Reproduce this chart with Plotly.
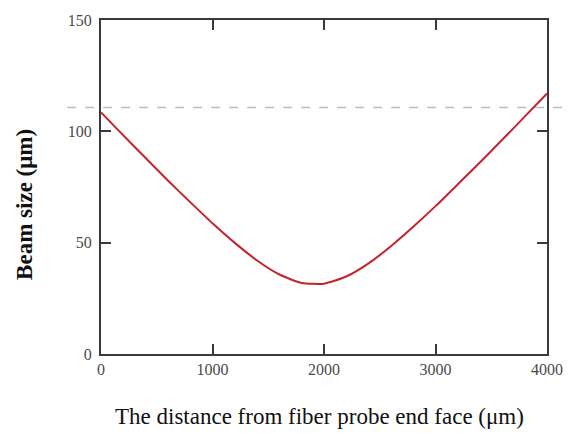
import plotly.graph_objects as go

# Data
distance_um = [0, 200, 400, 600, 800, 1000, 1200, 1400, 1600, 1800, 2000,
               2200, 2400, 2600, 2800, 3000, 3200, 3400, 3600, 3800, 4000]
beam_size_um = [108.5, 98.2, 88.0, 77.9, 68.2, 58.7, 49.9, 42.0, 35.7, 31.9, 31.6,
                34.8, 40.7, 48.4, 57.1, 66.4, 76.2, 86.1, 96.3, 106.6, 117.0]
reference_level = 110.7

x_ticks = [0, 1000, 2000, 3000, 4000]
y_ticks = [0, 50, 100, 150]

serif = "Liberation Serif, Times New Roman, serif"

fig = go.Figure()
fig.add_trace(go.Scatter(
    x=distance_um, y=beam_size_um, mode="lines", line_shape="spline",
    line=dict(color="#c4232b", width=2, smoothing=0.6),
    showlegend=False, hoverinfo="skip",
))

fig.add_shape(type="line", xref="paper", yref="y",
              x0=-0.076, x1=1.052, y0=reference_level, y1=reference_level,
              line=dict(color="#bdbdbd", width=1.5, dash="dash"), layer="below")

axis_common = dict(
    showgrid=False, zeroline=False, showline=True, linecolor="#3a3a3a", linewidth=2,
    ticks="inside", ticklen=10, tickwidth=2, tickcolor="#3a3a3a", mirror="ticks",
    tickfont=dict(family=serif, size=16, color="#4a4a4a"),
)

fig.update_xaxes(range=[0, 4000], tickvals=x_ticks, **axis_common)
fig.update_yaxes(range=[0, 150], tickvals=y_ticks, ticklabelstandoff=4, **axis_common)

fig.add_annotation(text="The distance from fiber probe end face (\u03bcm)",
                   xref="paper", yref="paper", x=0.491, y=-0.188,
                   showarrow=False, xanchor="center", yanchor="middle",
                   font=dict(family=serif, size=23, color="#111111"))
fig.add_annotation(text="<b>Beam size (\u03bcm)</b>",
                   xref="paper", yref="paper", x=-0.170, y=0.447, textangle=-90,
                   showarrow=False, xanchor="center", yanchor="middle",
                   font=dict(family=serif, size=23, color="#111111"))

fig.update_layout(
    width=579, height=434,
    margin=dict(l=101, r=32, t=14, b=80),
    paper_bgcolor="white", plot_bgcolor="white",
)

fig.write_html("out.html", config={"displayModeBar": False},
               post_script="document.body.style.margin='0';document.body.style.padding='0';")
